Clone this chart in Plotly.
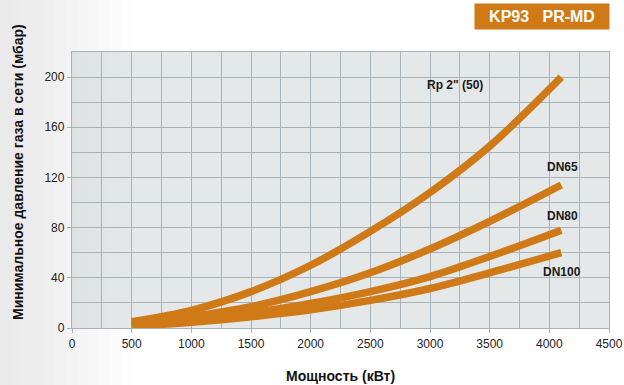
import plotly.graph_objects as go

power_kw = [500, 1000, 1500, 2000, 2500, 3000, 3500, 4100]
rp2_50 = [5.0, 14.0, 29.0, 50.0, 77.0, 108.0, 145.0, 200.0]
dn65 = [3.0, 9.0, 17.0, 29.0, 44.0, 63.0, 85.0, 114.0]
dn80 = [2.0, 6.0, 12.0, 19.5, 29.0, 41.0, 57.0, 78.0]
dn100 = [1.5, 4.5, 9.0, 14.5, 22.0, 31.5, 44.0, 60.0]

series_names = ['Rp 2" (50)', "DN65", "DN80", "DN100"]
series_values = [rp2_50, dn65, dn80, dn100]
label_x = [3210, 4110, 4110, 4110]
label_y = [194, 128, 89, 45]

orange = "#CF7A17"
grid = "#A8B3B9"
W, H = 624, 385
L, R, T, B = 72, 15, 52, 57
PW, PH = W - L - R, H - T - B


def px(xp):
    return (xp - L) / PW


def py(yp):
    return (H - B - yp) / PH


fig = go.Figure()
for name, vals in zip(series_names, series_values):
    fig.add_trace(go.Scatter(x=power_kw, y=vals, mode="lines", name=name,
                             line=dict(color=orange, width=7.5, shape="spline", smoothing=1.0),
                             showlegend=False, hoverinfo="skip"))

for name, lx, ly in zip(series_names, label_x, label_y):
    fig.add_annotation(x=lx, y=ly, text="<b>%s</b>" % name, showarrow=False,
                       font=dict(family="Liberation Sans, Arial, sans-serif", size=12, color="#1a1a1a"))

# left gradient strip of page background
for i in range(12):
    fig.add_shape(type="rect", xref="paper", yref="paper",
                  x0=px(0), x1=px((12 - i) * 11), y0=py(H), y1=py(0),
                  fillcolor="#D5D8D9", opacity=0.06, line=dict(width=0), layer="below")

# title box
fig.add_annotation(xref="paper", yref="paper", x=px(542), y=py(16.5),
                   xanchor="center", yanchor="middle",
                   text="<b>KP93   PR-MD</b>", showarrow=False,
                   bgcolor=orange, width=128, height=19, borderpad=3,
                   font=dict(family="Liberation Sans, Arial, sans-serif", size=16, color="white"))

# axis titles
fig.add_annotation(xref="paper", yref="paper", x=px(18), y=py(172), textangle=-90,
                   xanchor="center", yanchor="middle", showarrow=False,
                   text="<b>Минимальное давление газа в сети (мбар)</b>",
                   font=dict(family="Liberation Sans, Arial, sans-serif", size=14, color="#111"))
fig.add_annotation(xref="paper", yref="paper", x=px(340), y=py(376),
                   xanchor="center", yanchor="middle", showarrow=False,
                   text="<b>Мощность (кВт)</b>",
                   font=dict(family="Liberation Sans, Arial, sans-serif", size=14, color="#111"))

fig.update_layout(
    width=W, height=H,
    margin=dict(l=L, r=R, t=T, b=B, autoexpand=False),
    paper_bgcolor="white",
    plot_bgcolor="#E4E8E9",
    font=dict(family="Liberation Sans, Arial, sans-serif", size=12, color="#222"),
    xaxis=dict(range=[0, 4500], dtick=500, tick0=0, showgrid=True, gridcolor=grid, gridwidth=1.3,
               minor=dict(dtick=250, showgrid=True, gridcolor=grid, gridwidth=1.3),
               zeroline=False, showline=True, linecolor=grid, linewidth=1.3, mirror=True,
               ticks="outside", ticklen=4, tickcolor=grid, automargin=False),
    yaxis=dict(range=[0, 220], dtick=40, tick0=0, showgrid=True, gridcolor=grid, gridwidth=1.3,
               minor=dict(dtick=20, showgrid=True, gridcolor=grid, gridwidth=1.3),
               zeroline=False, showline=True, linecolor=grid, linewidth=1.3, mirror=True,
               ticks="outside", ticklen=4, tickcolor=grid, automargin=False),
)

fig.write_html("out.html", config={"displayModeBar": False},
               post_script="document.body.style.margin='0';document.body.style.overflow='hidden';")
